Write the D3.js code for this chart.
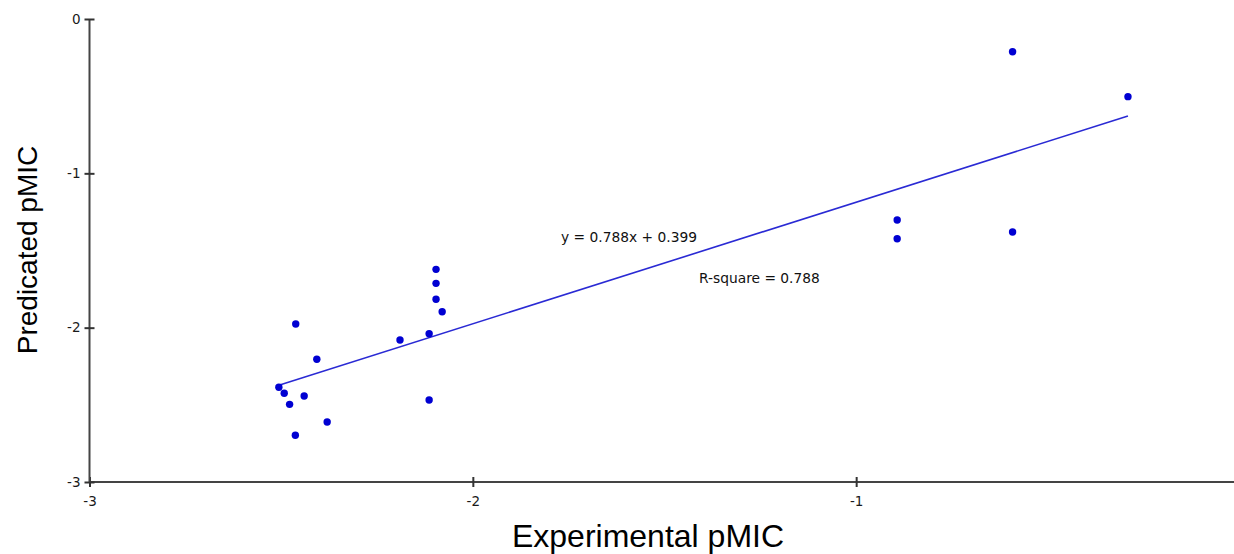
<!DOCTYPE html>
<html>
<head>
<meta charset="utf-8">
<script src="https://cdn.jsdelivr.net/npm/d3@7"></script>
<style>
  body { margin: 0; background: #fff; }
  svg { display: block; }
</style>
</head>
<body>
<div id="chart"></div>
<script>
// experimental vs predicted pMIC values
var experimental = [-0.592, -0.291, -0.893, -0.893, -0.592, -2.096, -2.096, -2.096, -2.080, -2.114,
                    -2.190, -2.114, -2.462, -2.407, -2.506, -2.492, -2.440, -2.478, -2.380, -2.463];
var predicted = [-0.212, -0.503, -1.302, -1.424, -1.380, -1.622, -1.713, -1.816, -1.897, -2.039,
                 -2.080, -2.469, -1.976, -2.205, -2.386, -2.425, -2.443, -2.497, -2.611, -2.697];
var tickValues = [-3, -2, -1, 0];
var fitSlope = 0.788;
var fitIntercept = -0.399;
var eqLabel = "y = 0.788x + 0.399";
var r2Label = "R-square = 0.788";

var width = 1234, height = 554;

var svg = d3.select("#chart").append("svg")
   .attr("width", width)
   .attr("height", height);

var x = d3.scaleLinear().domain([-3, 0]).range([89.5, 1239.5]);
var y = d3.scaleLinear().domain([-3, 0]).range([482, 19]);

// axes
var xAxis = d3.axisBottom(x).tickValues(tickValues).tickSize(5).tickPadding(9);
var yAxis = d3.axisLeft(y).tickValues(tickValues).tickSize(5).tickPadding(4);

var gx = svg.append("g").attr("transform", "translate(0," + y(-3) + ")").call(xAxis);
var gy = svg.append("g").attr("transform", "translate(" + x(-3) + ",0)").call(yAxis);

[gx, gy].forEach(function (g) {
   g.select(".domain").attr("stroke", "#444").attr("stroke-width", 2);
   g.selectAll(".tick line").attr("stroke", "#333").attr("stroke-width", 2);
   g.selectAll(".tick text")
      .attr("fill", "#1a1a1a")
      .style("font-family", "'DejaVu Sans', Verdana, sans-serif")
      .style("font-size", "13.5px")
      .text(d => d == 0 ? "0" : "-" + Math.abs(d));
});
// ticks cross the axis on both sides
gx.selectAll(".tick line").attr("y1", -5);
gy.selectAll(".tick line").attr("x1", 5);
gy.select(".domain").attr("d", "M0," + y(0) + "V" + y(-3));
gx.select(".domain").attr("d", "M" + x(-3) + ",0H" + x(0));

// regression line
var xMin = d3.min(experimental), xMax = d3.max(experimental);
svg.append("line")
   .attr("x1", x(xMin)).attr("y1", y(fitSlope * xMin + fitIntercept))
   .attr("x2", x(xMax)).attr("y2", y(fitSlope * xMax + fitIntercept))
   .attr("stroke", "#2a2ad4")
   .attr("stroke-width", 1.6);

// points
svg.selectAll(".pt")
   .data(experimental)
   .join("circle")
   .attr("class", "pt")
   .attr("cx", d => x(d))
   .attr("cy", (d, i) => y(predicted[i]))
   .attr("r", 3.7)
   .attr("fill", "#0000d2");

// annotations
var annoFont = "'DejaVu Sans', Verdana, sans-serif";
svg.append("text")
   .attr("x", x(-1.77)).attr("y", y(-1.445))
   .style("font-family", annoFont).style("font-size", "13.8px")
   .attr("fill", "#111")
   .text(eqLabel);
svg.append("text")
   .attr("x", x(-1.41)).attr("y", y(-1.71))
   .style("font-family", annoFont).style("font-size", "13.8px")
   .attr("fill", "#111")
   .text(r2Label);

// axis titles
svg.append("text")
   .attr("x", 648).attr("y", 547)
   .attr("text-anchor", "middle")
   .style("font-family", "'Liberation Sans', Arial, sans-serif")
   .style("font-size", "32px")
   .attr("fill", "#000")
   .text("Experimental pMIC");
svg.append("text")
   .attr("transform", "translate(37," + 250 + ") rotate(-90)")
   .attr("text-anchor", "middle")
   .style("font-family", "'Liberation Sans', Arial, sans-serif")
   .style("font-size", "28px")
   .attr("fill", "#000")
   .text("Predicated pMIC");
</script>
</body>
</html>
